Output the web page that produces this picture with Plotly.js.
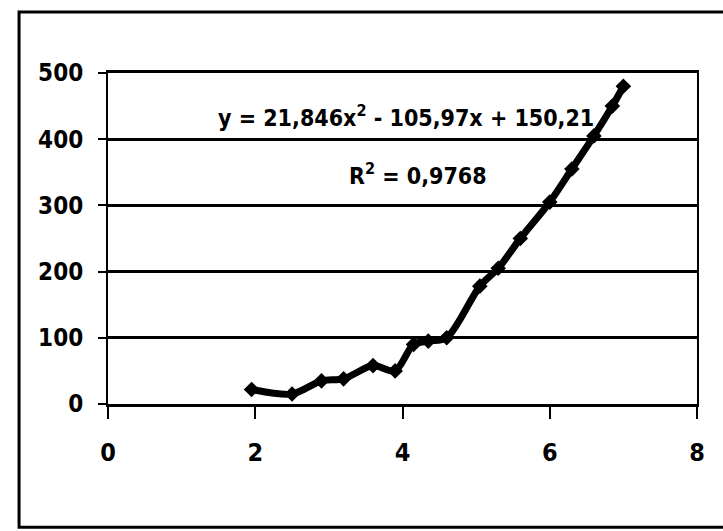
<!DOCTYPE html>
<html>
<head>
<meta charset="utf-8">
<script src="https://cdn.plot.ly/plotly-3.0.1.min.js"></script>
<style>html,body{margin:0;padding:0;background:#fff;}#chart{width:723px;height:531px;}</style>
</head>
<body>
<div id="chart"></div>
<script>
// Values
var xValues = [1.95, 2.5, 2.9, 3.2, 3.6, 3.9, 4.15, 4.35, 4.6, 5.05, 5.3, 5.6, 6.0, 6.3, 6.6, 6.85, 7.0];
var yValues = [22, 15, 35, 38, 58, 50, 90, 95, 100, 178, 205, 250, 305, 355, 405, 450, 480];
var xTicks = [0, 2, 4, 6, 8];
var xTickLabels = ['0', '2', '4', '6', '8'];
var yTicks = [0, 100, 200, 300, 400, 500];
var yTickLabels = ['0', '100', '200', '300', '400', '500'];
var equationText = 'y = 21,846x<sup>2</sup> - 105,97x + 150,21';
var r2Text = 'R<sup>2</sup> = 0,9768';

var FONT = '"DejaVu Sans Condensed", "Liberation Sans Narrow", sans-serif';

var trace = {
  x: xValues,
  y: yValues,
  type: 'scatter',
  mode: 'lines+markers',
  line: {color: '#000', width: 7, shape: 'spline', smoothing: 0.8},
  marker: {symbol: 'diamond', size: 12, color: '#000'},
  hoverinfo: 'skip',
  showlegend: false
};

var layout = {
  width: 723,
  height: 531,
  margin: {l: 108, r: 26, t: 73, b: 127},
  paper_bgcolor: '#fff',
  plot_bgcolor: '#fff',
  font: {family: FONT, color: '#000', size: 24, weight: 'bold'},
  showlegend: false,
  xaxis: {
    range: [0, 8],
    tickmode: 'array',
    tickvals: xTicks,
    ticktext: xTickLabels,
    ticks: 'outside',
    ticklen: 12,
    tickwidth: 2,
    tickcolor: '#000',
    showline: true,
    linecolor: '#000',
    linewidth: 3,
    mirror: true,
    showgrid: false,
    zeroline: false,
    ticklabelstandoff: 12,
    tickfont: {family: FONT, size: 25, color: '#000', weight: 'bold'}
  },
  yaxis: {
    range: [0, 500],
    tickmode: 'array',
    tickvals: yTicks,
    ticktext: yTickLabels,
    ticks: 'outside',
    ticklen: 8,
    tickwidth: 2,
    tickcolor: '#000',
    showline: true,
    linecolor: '#000',
    linewidth: 2,
    mirror: true,
    showgrid: true,
    gridcolor: '#000',
    gridwidth: 3,
    zeroline: false,
    ticklabelstandoff: 10,
    tickfont: {family: FONT, size: 24, color: '#000', weight: 'bold'}
  },
  annotations: [
    {xref: 'paper', yref: 'paper', x: 0.506, y: 0.87, text: equationText, showarrow: false,
     xanchor: 'center', yanchor: 'middle', font: {family: FONT, size: 23, color: '#000', weight: 'bold'}},
    {xref: 'paper', yref: 'paper', x: 0.526, y: 0.695, text: r2Text, showarrow: false,
     xanchor: 'center', yanchor: 'middle', font: {family: FONT, size: 23, color: '#000', weight: 'bold'}}
  ],
  shapes: [
    {type: 'rect', xref: 'paper', yref: 'paper', x0: -0.151, x1: 1.25, y0: -0.372, y1: 1.184,
     line: {color: '#000', width: 3}, fillcolor: 'rgba(0,0,0,0)', layer: 'below'}
  ]
};

Plotly.newPlot('chart', [trace], layout, {displayModeBar: false, staticPlot: true});
</script>
</body>
</html>
